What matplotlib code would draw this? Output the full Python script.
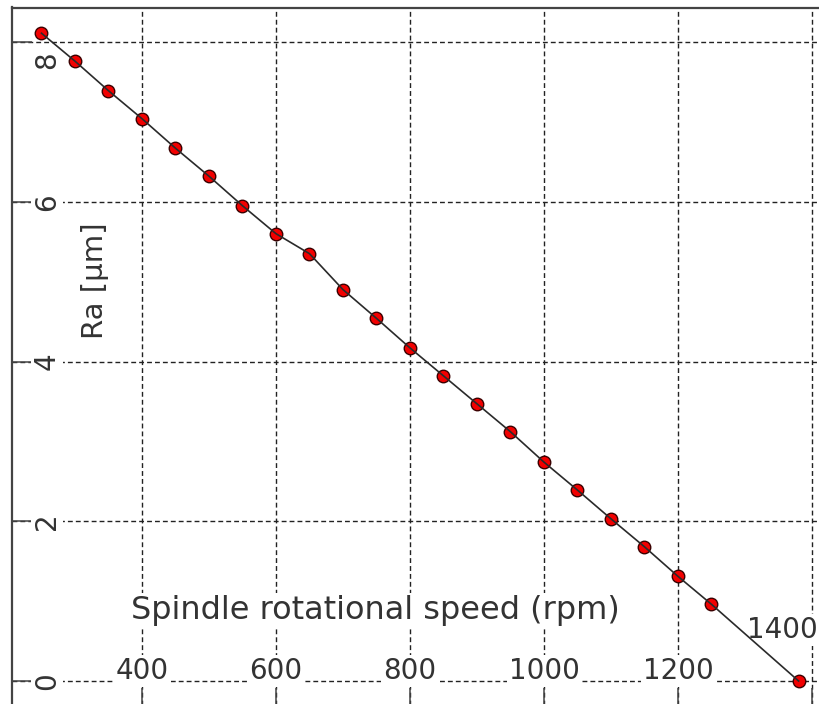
import matplotlib
matplotlib.use('Agg')
import matplotlib.pyplot as plt

# rotação do fuso (rpm) x rugosidade Ra (um)
rotacao = [250, 300, 350, 400, 450, 500, 550, 600, 650, 700, 750, 800,
           850, 900, 950, 1000, 1050, 1100, 1150, 1200, 1250, 1380]
ra = [8.11, 7.76, 7.39, 7.04, 6.67, 6.32, 5.95, 5.60, 5.35, 4.90, 4.54, 4.17,
      3.82, 3.47, 3.12, 2.74, 2.39, 2.03, 1.68, 1.31, 0.96, 0.0]

ticks_x = [400, 600, 800, 1000, 1200, 1400]
ticks_y = [0, 2, 4, 6, 8]

cor_texto = '#333333'
cor_eixo = '#444444'
caixa = dict(facecolor='white', edgecolor='none', pad=1.5)
fonte = dict(family='DejaVu Sans', color=cor_texto)

fig = plt.figure(figsize=(8.2, 7.04), dpi=100)
# eixo ocupa a figura toda, com a borda de baixo e a direita cortadas
ax = fig.add_axes([12 / 820, -4 / 704, 814 / 820, 700.5 / 704])
ax.set_xlim(205.97, 1420.9)
ax.set_ylim(-0.338, 8.432)

for lado in ax.spines.values():
    lado.set_color(cor_eixo)
    lado.set_linewidth(1.6)

ax.set_xticks(ticks_x)
ax.set_yticks(ticks_y)
ax.tick_params(direction='in', length=14.4, width=1.1, color=cor_eixo,
               labelbottom=False, labelleft=False)
ax.set_axisbelow(True)
ax.grid(True, color='#222222', linewidth=1.0, linestyle=(0, (3.5, 2.2)))

# rótulos dos ticks por dentro do gráfico
for v in ticks_y:
    dy = -13 if v == ticks_y[-1] else 0
    ax.annotate(str(v), xy=(0, v), xycoords=('axes fraction', 'data'),
                xytext=(15, dy), textcoords='offset points', rotation=90,
                ha='left', va='center', fontsize=20, bbox=caixa, zorder=3,
                **fonte)

for v in ticks_x:
    if v == ticks_x[-1]:
        ax.annotate(str(v), xy=(1, 0), xycoords=('axes fraction', 'data'),
                    xytext=(-6, 36.7), textcoords='offset points',
                    ha='right', va='center', fontsize=20, bbox=caixa,
                    zorder=3, **fonte)
    else:
        ax.annotate(str(v), xy=(v, 0), xytext=(0, 7.5),
                    textcoords='offset points', ha='center', va='center',
                    fontsize=20, bbox=caixa, zorder=3, **fonte)

ax.text(748, 0.88, 'Spindle rotational speed (rpm)', ha='center', va='center',
        fontsize=23, bbox=caixa, zorder=3, **fonte)
ax.text(330, 5.01, 'Ra [µm]', rotation=90, ha='center', va='center',
        fontsize=21, bbox=caixa, zorder=3, **fonte)

# pontos por baixo, linha por cima
ax.plot(rotacao, ra, 'o', ms=9, mfc='#f20000', mec='#3a0000', mew=1.0, zorder=4)
ax.plot(rotacao, ra, '-', color='#2a2a2a', lw=1.2, zorder=5)

fig.savefig('out.png', dpi=100)
